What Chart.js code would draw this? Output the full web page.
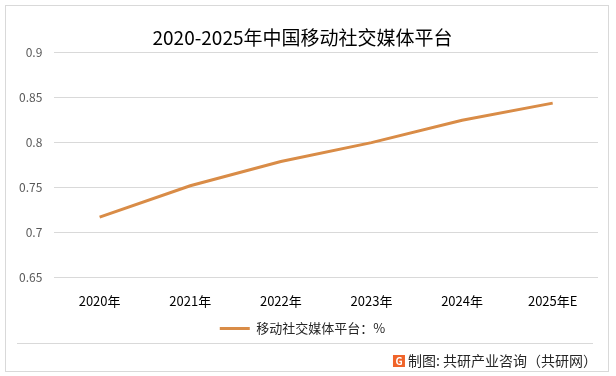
<!DOCTYPE html>
<html>
<head>
<meta charset="utf-8">
<script src="https://cdn.jsdelivr.net/npm/chart.js@4"></script>
<style>
  html, body { margin: 0; padding: 0; background: #fff; }
  #wrap { width: 616px; height: 376px; position: relative; }
</style>
</head>
<body>
<div id="wrap"><canvas id="shareChart" width="616" height="376"></canvas></div>
<script>
const years = ["2020年", "2021年", "2022年", "2023年", "2024年", "2025年E"];
const shareValues = [0.717, 0.752, 0.779, 0.8, 0.825, 0.844];
const seriesName = "移动社交媒体平台：%";
const titleText = "2020-2025年中国移动社交媒体平台";
const sourceText = "制图: 共研产业咨询（共研网）";

const cjk = '"Noto Sans CJK SC", "Noto Sans", sans-serif';

// frame, footer line and source note
const frameDecor = {
  id: "frameDecor",
  afterDraw(chart) {
    const ctx = chart.ctx;
    ctx.save();
    ctx.strokeStyle = "#d9d9d9";
    ctx.lineWidth = 1;
    ctx.strokeRect(5.5, 5.5, 603, 366);
    ctx.beginPath();
    ctx.moveTo(17, 343.5);
    ctx.lineTo(593, 343.5);
    ctx.stroke();

    ctx.font = "14px " + cjk;
    ctx.fillStyle = "#262626";
    ctx.textAlign = "right";
    ctx.textBaseline = "middle";
    ctx.fillText(sourceText, 597, 361);
    const w = ctx.measureText(sourceText).width;
    const lx = 597 - w - 15;
    ctx.fillStyle = "#f0642a";
    ctx.fillRect(lx, 355, 12, 12);
    ctx.fillStyle = "#fff";
    ctx.font = "bold 10px " + cjk;
    ctx.textAlign = "center";
    ctx.fillText("G", lx + 6, 361.5);
    ctx.restore();
  }
};

new Chart(document.getElementById("shareChart"), {
  type: "line",
  data: {
    labels: years,
    datasets: [
      {
        label: seriesName,
        data: shareValues,
        borderColor: "#d98c47",
        backgroundColor: "#d98c47",
        borderWidth: 3,
        pointRadius: 0,
        tension: 0,
        fill: false,
      },
    ],
  },
  options: {
    responsive: false,
    animation: false,
    layout: { padding: { left: 7, right: 18, top: 0, bottom: 31 } },
    plugins: {
      title: {
        display: true,
        text: titleText,
        color: "#000",
        font: { family: cjk, size: 19, weight: "normal" },
        padding: { top: 26, bottom: 4 },
      },
      legend: {
        position: "bottom",
        labels: {
          usePointStyle: true,
          pointStyle: "line",
          pointStyleWidth: 30,
          color: "#262626",
          font: { family: cjk, size: 13 },
          padding: 5,
        },
      },
      tooltip: { enabled: false },
    },
    scales: {
      x: {
        offset: true,
        grid: { display: false },
        border: { display: false },
        ticks: {
          color: "#000",
          font: { family: cjk, size: 13 },
          padding: 8,
          maxRotation: 0,
        },
      },
      y: {
        min: 0.65,
        max: 0.9,
        grid: { color: "#d9d9d9", drawTicks: false },
        border: { display: false },
        ticks: {
          stepSize: 0.05,
          color: "#595959",
          font: { family: cjk, size: 12 },
          padding: 12,
          callback: (v) => String(Math.round(v * 100) / 100),
        },
      },
    },
  },
  plugins: [frameDecor],
});
</script>
</body>
</html>
